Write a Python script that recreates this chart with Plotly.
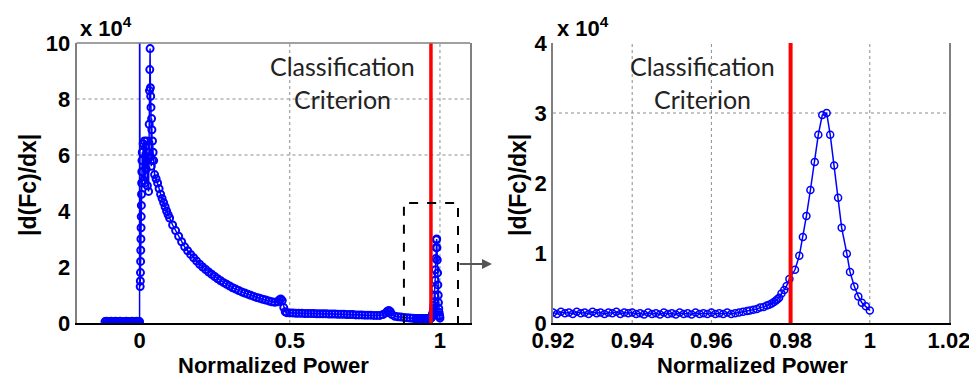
import plotly.graph_objects as go

# ---------------- data (values in units of 1e4) ----------------
left_pre_x = [-0.115, -0.11, -0.105, -0.10, -0.095, -0.09, -0.085, -0.08, -0.075, -0.07,
              -0.065, -0.06, -0.055, -0.05, -0.045, -0.04, -0.035, -0.03, -0.025, -0.02,
              -0.015, -0.01, -0.005, 0.0]
left_pre_y = [0.05, 0.06, 0.05, 0.04, 0.06, 0.05, 0.05, 0.06, 0.04, 0.05,
              0.06, 0.05, 0.04, 0.05, 0.06, 0.05, 0.05, 0.04, 0.06, 0.05,
              0.05, 0.06, 0.05, 0.05]

left_spike_x = [0.0, 0.002, 0.0025, 0.003, 0.0035, 0.004, 0.0045, 0.005, 0.0055, 0.006,
                0.0065, 0.007, 0.0075, 0.008, 0.009, 0.010, 0.012, 0.014, 0.016, 0.018,
                0.020, 0.022, 0.024, 0.026, 0.028, 0.030, 0.031, 0.032, 0.033, 0.034,
                0.035, 0.036, 0.037, 0.038, 0.039, 0.040, 0.041, 0.042, 0.043, 0.045, 0.047]
left_spike_y = [15.0, 1.3, 1.5, 1.8, 2.2, 2.6, 3.0, 3.4, 3.8, 4.2,
                4.6, 5.0, 5.4, 5.8, 6.1, 5.4, 6.4, 5.1, 6.5, 5.0,
                6.3, 5.5, 6.5, 4.9, 6.1, 4.7, 5.9, 7.1, 8.3, 9.05,
                9.8, 8.4, 8.1, 7.7, 5.6, 7.3, 6.9, 5.8, 6.5, 6.1, 5.8]

left_main_x = [0.05, 0.055, 0.06, 0.065, 0.07, 0.075, 0.08, 0.085, 0.09, 0.095,
               0.10, 0.11, 0.12, 0.13, 0.14,
               0.15, 0.16, 0.17, 0.18, 0.19, 0.20, 0.21, 0.22, 0.23, 0.24,
               0.25, 0.26, 0.27, 0.28, 0.29, 0.30, 0.31, 0.32, 0.33, 0.34,
               0.35, 0.36, 0.37, 0.38, 0.39, 0.40, 0.41, 0.42, 0.43, 0.44,
               0.45, 0.46, 0.465, 0.47, 0.475, 0.48, 0.485, 0.49, 0.50, 0.51,
               0.52, 0.53, 0.54, 0.55, 0.56, 0.57, 0.58, 0.59, 0.60, 0.61,
               0.62, 0.63, 0.64, 0.65, 0.66, 0.67, 0.68, 0.69, 0.70, 0.71,
               0.72, 0.73, 0.74, 0.75, 0.76, 0.77, 0.78, 0.79, 0.80, 0.81,
               0.82, 0.825, 0.83, 0.835, 0.84, 0.85, 0.86, 0.87, 0.88, 0.89,
               0.90, 0.91]
left_main_y = [5.3, 5.15, 5.0, 4.8, 4.6, 4.45, 4.3, 4.15, 4.0, 3.87,
               3.75, 3.5, 3.3, 3.1, 2.9,
               2.72, 2.58, 2.45, 2.33, 2.21, 2.1, 2.0, 1.91, 1.82, 1.74,
               1.66, 1.58, 1.51, 1.44, 1.38, 1.32, 1.26, 1.21, 1.16, 1.11,
               1.07, 1.03, 0.99, 0.95, 0.91, 0.88, 0.85, 0.82, 0.79, 0.76,
               0.74, 0.76, 0.82, 0.86, 0.80, 0.55, 0.40, 0.37, 0.36, 0.36,
               0.35, 0.35, 0.35, 0.34, 0.34, 0.34, 0.34, 0.33, 0.33, 0.33,
               0.33, 0.32, 0.32, 0.32, 0.31, 0.31, 0.31, 0.30, 0.30, 0.30,
               0.29, 0.29, 0.29, 0.28, 0.28, 0.28, 0.27, 0.27, 0.27, 0.30,
               0.36, 0.42, 0.45, 0.40, 0.30, 0.24, 0.22, 0.21, 0.20, 0.19,
               0.18, 0.17]

zoom_x = [0.920, 0.921, 0.922, 0.923, 0.924, 0.925, 0.926, 0.927, 0.928, 0.929,
          0.930, 0.931, 0.932, 0.933, 0.934, 0.935, 0.936, 0.937, 0.938, 0.939,
          0.940, 0.941, 0.942, 0.943, 0.944, 0.945, 0.946, 0.947, 0.948, 0.949,
          0.950, 0.951, 0.952, 0.953, 0.954, 0.955, 0.956, 0.957, 0.958, 0.959,
          0.960, 0.961, 0.962, 0.963, 0.964, 0.965, 0.966, 0.967, 0.968, 0.969,
          0.9697, 0.9706, 0.9715, 0.9723, 0.9732, 0.9740, 0.9746, 0.9752, 0.9758, 0.9763,
          0.9767, 0.9771, 0.9777, 0.9784, 0.9790, 0.9797, 0.9811, 0.9822, 0.9831, 0.9840,
          0.9850, 0.9861, 0.9870, 0.9880, 0.9891, 0.9900, 0.9910, 0.9920, 0.9929, 0.9942,
          0.9950, 0.9961, 0.9971, 0.9980, 0.9990, 1.0000]
zoom_y = [0.15, 0.13, 0.16, 0.14, 0.15, 0.13, 0.16, 0.14, 0.15, 0.13,
          0.16, 0.14, 0.15, 0.13, 0.15, 0.14, 0.16, 0.13, 0.15, 0.14,
          0.15, 0.13, 0.14, 0.12, 0.15, 0.13, 0.14, 0.12, 0.15, 0.13,
          0.14, 0.12, 0.15, 0.13, 0.14, 0.12, 0.15, 0.13, 0.14, 0.13,
          0.15, 0.13, 0.14, 0.13, 0.15, 0.13, 0.14, 0.15, 0.16, 0.17,
          0.18, 0.19, 0.20, 0.22, 0.23, 0.25, 0.26, 0.28, 0.30, 0.32,
          0.34, 0.36, 0.42, 0.47, 0.53, 0.63, 0.76, 0.96, 1.23, 1.53,
          1.90, 2.30, 2.69, 2.97, 3.00, 2.69, 2.25, 1.79, 1.36, 0.99,
          0.73, 0.52, 0.38, 0.29, 0.24, 0.18]

left_criterion = 0.97
right_criterion = 0.98

left_xticks = [0, 0.5, 1]
left_xticktext = ["0", "0.5", "1"]
left_yticks = [0, 2, 4, 6, 8, 10]
right_xticks = [0.92, 0.94, 0.96, 0.98, 1.0, 1.02]
right_xticktext = ["0.92", "0.94", "0.96", "0.98", "1", "1.02"]
right_yticks = [0, 1, 2, 3, 4]

left_grid_x = [0.5, 1.0]
left_grid_y = [6, 8]
right_grid_x = [0.94, 0.96, 0.98, 1.0]
right_grid_y = [3]

# ---------------- figure ----------------
# page body has an 8px default margin: size the figure so it fills the window exactly
OFF = 8
W, H = 977 - OFF, 381 - OFF
def px(v): return (v - OFF) / W
def py(v): return 1 - (v - OFF) / H

BLUE = "#0000FF"
RED = "#FF0000"
TICKFONT = dict(family="Liberation Sans, Arial", size=22, color="black", weight="bold")
TITLEFONT = dict(family="Liberation Sans, Arial", size=22, color="black", weight="bold")
TEXTFONT = dict(family="Lato", size=25, color="#222222")

left_x = left_pre_x + left_spike_x + left_main_x + zoom_x
left_y = left_pre_y + left_spike_y + left_main_y + zoom_y

fig = go.Figure()
fig.add_trace(go.Scatter(x=left_x, y=left_y, mode="lines+markers",
                         line=dict(color=BLUE, width=1.5),
                         marker=dict(symbol="circle-open", size=7, color=BLUE, line=dict(width=2, color=BLUE)),
                         xaxis="x", yaxis="y", showlegend=False))
fig.add_trace(go.Scatter(x=[left_criterion, left_criterion], y=[0, 10], mode="lines",
                         line=dict(color=RED, width=3.5), xaxis="x", yaxis="y", showlegend=False))
fig.add_trace(go.Scatter(x=zoom_x, y=zoom_y, mode="lines+markers",
                         line=dict(color=BLUE, width=1.5),
                         marker=dict(symbol="circle-open", size=7, color=BLUE, line=dict(width=1.5, color=BLUE)),
                         xaxis="x2", yaxis="y2", showlegend=False))
fig.add_trace(go.Scatter(x=[right_criterion, right_criterion], y=[0, 4], mode="lines",
                         line=dict(color=RED, width=4), xaxis="x2", yaxis="y2", showlegend=False))

ydom = [py(323), py(43)]
common = dict(showgrid=False, zeroline=False, ticks="", tickfont=TICKFONT, automargin=False)
fig.update_layout(
    width=W, height=H, margin=dict(l=0, r=0, t=0, b=0, autoexpand=False),
    paper_bgcolor="white", plot_bgcolor="white",
    xaxis=dict(domain=[px(76.5), px(470)], range=[-0.21, 1.1], tickvals=left_xticks,
               ticktext=left_xticktext, showline=True, linecolor="black", linewidth=2,
               ticklabelstandoff=-3, anchor="y", **common),
    yaxis=dict(domain=ydom, range=[0, 10], tickvals=left_yticks, showline=True,
               linecolor="#808080", linewidth=1.5, mirror=True, anchor="x", **common),
    xaxis2=dict(domain=[px(553), px(949)], range=[0.92, 1.02], tickvals=right_xticks,
                ticktext=right_xticktext, showline=True, linecolor="black", linewidth=2,
                ticklabelstandoff=-3, anchor="y2", **common),
    yaxis2=dict(domain=ydom, range=[0, 4], tickvals=right_yticks, showline=True,
                linecolor="#808080", linewidth=1.5, mirror=True, anchor="x2", **common),
)

shapes = []
grid = dict(color="#8c8c8c", width=1, dash="dot")
for gx in left_grid_x:
    shapes.append(dict(type="line", xref="x", yref="y", x0=gx, x1=gx, y0=0, y1=10, line=grid, layer="below"))
for gy in left_grid_y:
    shapes.append(dict(type="line", xref="x", yref="y", x0=-0.21, x1=1.1, y0=gy, y1=gy, line=grid, layer="below"))
for gx in right_grid_x:
    shapes.append(dict(type="line", xref="x2", yref="y2", x0=gx, x1=gx, y0=0, y1=4, line=grid, layer="below"))
for gy in right_grid_y:
    shapes.append(dict(type="line", xref="x2", yref="y2", x0=0.92, x1=1.02, y0=gy, y1=gy, line=grid, layer="below"))
# top border of left axes
shapes.append(dict(type="line", xref="x domain", yref="y domain", x0=0, x1=1, y0=1, y1=1,
                   line=dict(color="#808080", width=1.5)))
# dashed zoom box
shapes.append(dict(type="rect", xref="x", yref="y", x0=0.88, x1=1.06, y0=-0.07, y1=4.29,
                   line=dict(color="black", width=2, dash="dash")))
fig.update_layout(shapes=shapes)

ann = []
# arrow from the dashed box to the right panel
ann.append(dict(x=px(492), y=py(264), xref="paper", yref="paper", ax=-34, ay=0, text="",
                showarrow=True, arrowhead=2, arrowsize=1, arrowwidth=2, arrowcolor="#555555"))
# exponent labels
for xl in (78, 555):
    ann.append(dict(x=px(xl), y=py(27), xref="paper", yref="paper", xanchor="left", yanchor="middle",
                    text="x 10<sup>4</sup>", showarrow=False,
                    font=dict(family="Liberation Sans, Arial", size=22, color="black", weight="bold")))
# classification text
for cx in (342, 702):
    ann.append(dict(x=px(cx), y=py(66), xref="paper", yref="paper", text="Classification",
                    xanchor="center", yanchor="middle", showarrow=False, font=TEXTFONT))
    ann.append(dict(x=px(cx), y=py(99), xref="paper", yref="paper", text="Criterion",
                    xanchor="center", yanchor="middle", showarrow=False, font=TEXTFONT))
# axis titles
for cx in (273, 752):
    ann.append(dict(x=px(cx), y=py(365), xref="paper", yref="paper", text="Normalized Power",
                    xanchor="center", yanchor="middle", showarrow=False, font=TITLEFONT))
for cx in (28, 518):
    ann.append(dict(x=px(cx), y=py(185), xref="paper", yref="paper", text="|d(Fc)/dx|",
                    xanchor="center", yanchor="middle", textangle=-90, showarrow=False,
                    font=dict(family="Liberation Sans, Arial", size=23, color="black", weight="bold")))
fig.update_layout(annotations=ann)

fig.write_html("out.html")
